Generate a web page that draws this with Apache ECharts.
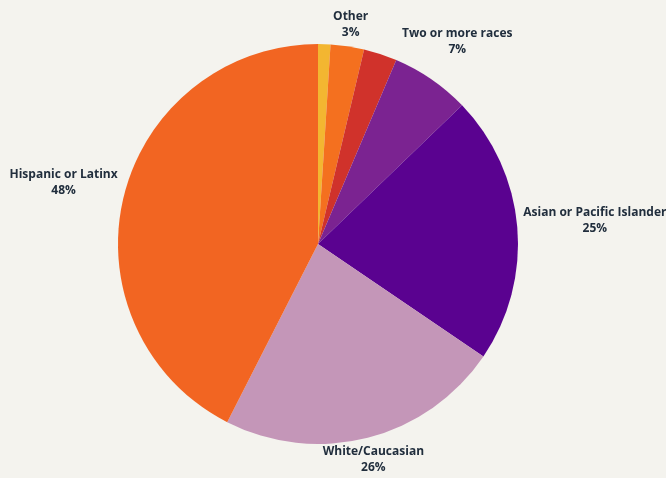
<!DOCTYPE html>
<html>
<head>
<meta charset="utf-8">
<script src="https://cdn.jsdelivr.net/npm/echarts@6/dist/echarts.min.js"></script>
<style>
  html, body { margin: 0; padding: 0; background: #F4F3EE; }
  #chart { width: 666px; height: 478px; }
</style>
</head>
<body>
<div id="chart"></div>
<script>
// Slices, clockwise from 12 o'clock (in %)
const categories = ['', 'Other', '', 'Two or more races', 'Asian or Pacific Islander', 'White/Caucasian', 'Hispanic or Latinx'];
const sliceValues = [1.0, 2.7, 2.7, 6.4, 21.7, 23.0, 42.5];
const labelPercents = ['', '3%', '', '7%', '25%', '26%', '48%'];
const sliceColors = ['#F3B631', '#F4701F', '#D0322B', '#7B2391', '#5A0290', '#C496B8', '#F26522'];

const CX = 318, CY = 244, R = 200, GAP = 6;
const extraGap = { 'Two or more races': 20 };

const total = sliceValues.reduce((a, b) => a + b, 0);
const startFrac = [];
sliceValues.reduce((acc, v, i) => { startFrac[i] = acc; return acc + v; }, 0);

const chart = echarts.init(document.getElementById('chart'), null, { renderer: 'canvas' });
chart.setOption({
  backgroundColor: '#F4F3EE',
  animation: false,
  series: [{
    type: 'pie',
    center: [CX, CY],
    radius: R,
    startAngle: 90,
    clockwise: true,
    silent: true,
    avoidLabelOverlap: false,
    itemStyle: { borderWidth: 0 },
    label: {
      show: true,
      position: 'inside',
      color: '#212E3D',
      fontFamily: 'Open Sans',
      fontWeight: 'bold',
      fontSize: 12,
      lineHeight: 16,
      align: 'center',
      formatter: p => p.name ? p.name + '\n' + labelPercents[p.dataIndex] : ''
    },
    labelLine: { show: false },
    labelLayout: function (params) {
      const i = params.dataIndex;
      const name = categories[i];
      if (!name) return {};
      const mid = (startFrac[i] + sliceValues[i] / 2) / total * Math.PI * 2;
      const dx = Math.sin(mid), dy = -Math.cos(mid);
      const g = GAP + (extraGap[name] || 0);
      const px = CX + (R + g) * dx, py = CY + (R + g) * dy;
      const w = params.labelRect.width, h = params.labelRect.height;
      const t = Math.min(Math.abs(dx) > 1e-6 ? w / 2 / Math.abs(dx) : Infinity,
                         Math.abs(dy) > 1e-6 ? h / 2 / Math.abs(dy) : Infinity);
      return { x: px + t * dx, y: py + t * dy, align: 'center', verticalAlign: 'middle' };
    },
    data: categories.map((name, i) => ({
      name: name,
      value: sliceValues[i],
      itemStyle: { color: sliceColors[i] },
      label: { show: !!name }
    }))
  }]
});
</script>
</body>
</html>
